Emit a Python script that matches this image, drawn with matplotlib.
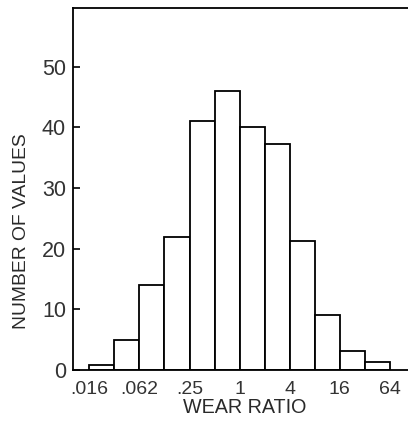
import numpy as np
import matplotlib
matplotlib.use("Agg")
import matplotlib.pyplot as plt

# Data
bin_exponents = list(range(-6, 6))          # left edges as powers of 2
counts = [0.8, 5, 14, 22, 41, 46, 40, 37.3, 21.2, 9, 3.2, 1.4]
xtick_values = [2.0**-6, 2.0**-4, 2.0**-2, 1, 4, 16, 64]
xtick_labels = [".016", ".062", ".25", "1", "4", "16", "64"]
ytick_values = [0, 10, 20, 30, 40, 50]

plt.rcParams['font.family'] = ['Liberation Sans', 'DejaVu Sans']

fig = plt.figure(figsize=(4.08, 4.23), dpi=100)
ax = fig.add_axes([0.179, 0.125, 0.821, 0.857])

lefts = [2.0**e for e in bin_exponents]
widths = [2.0**(e + 1) - 2.0**e for e in bin_exponents]
ax.bar(lefts, counts, width=widths, align='edge', facecolor='white',
       edgecolor='black', linewidth=1.3)

ax.set_xscale('log', base=2)
ax.set_xlim(2.0**-6.65, 2.0**6.72)
ax.set_ylim(0, 59.7)

ax.set_xticks(xtick_values)
ax.set_xticklabels(xtick_labels)
ax.minorticks_off()
ax.tick_params(axis='x', length=0, pad=8, labelsize=14, labelcolor='#333333')
ax.set_yticks(ytick_values)
ax.tick_params(axis='y', direction='in', length=5, width=1.2, pad=5,
               labelsize=15.5, labelcolor='#333333')

for s in ['left', 'top', 'bottom']:
    ax.spines[s].set_linewidth(1.3)
ax.spines['right'].set_visible(False)

ax.set_xlabel("WEAR RATIO", fontsize=14.2, color='#2a2a2a', va='center')
ax.set_ylabel("NUMBER OF VALUES", fontsize=13.9, color='#2a2a2a', va='center')
ax.xaxis.set_label_coords(0.512, -0.102)
ax.yaxis.set_label_coords(-0.154, 0.384)

fig.savefig("out.png", dpi=100)
